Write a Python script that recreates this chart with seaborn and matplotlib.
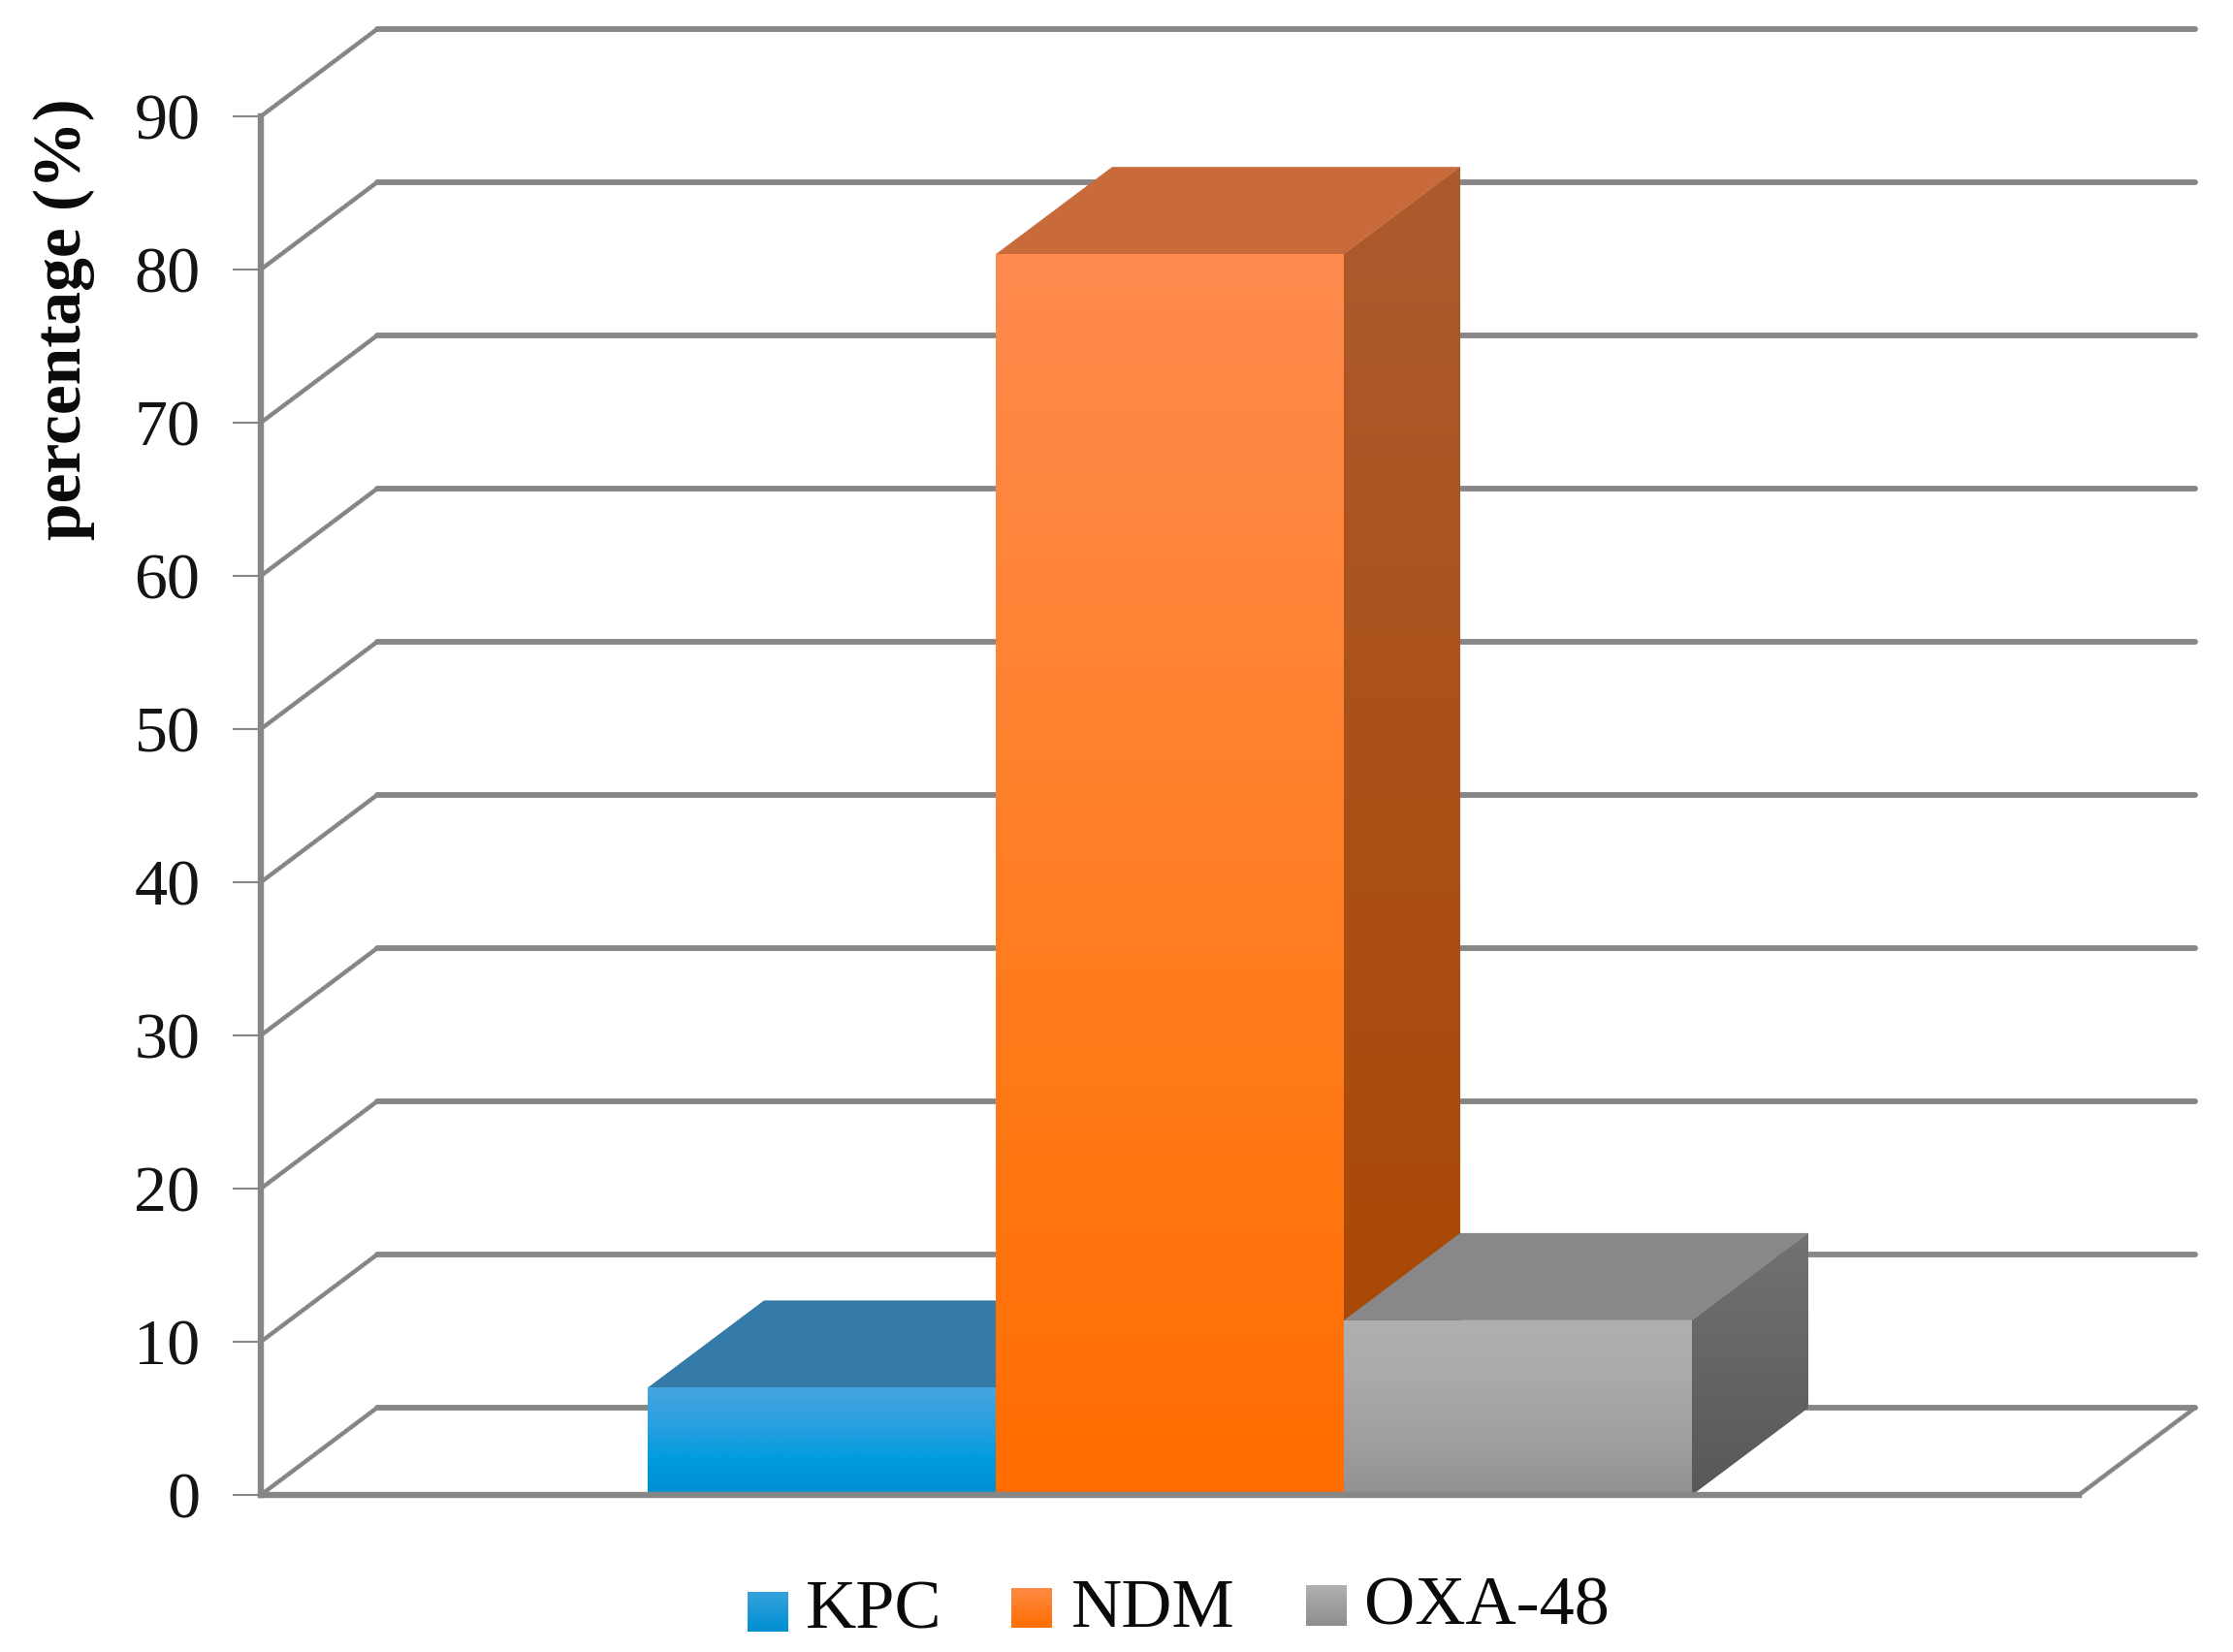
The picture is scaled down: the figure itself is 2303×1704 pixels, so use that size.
#!/usr/bin/env python3
"""Carbapenemase percentages as a pseudo-3D column chart"""

import numpy as np
import pandas as pd
import matplotlib
matplotlib.use('Agg')
import matplotlib.pyplot as plt
import seaborn as sns
from matplotlib.colors import LinearSegmentedColormap
from matplotlib.patches import Polygon

# Data
enzymes = ['KPC', 'NDM', 'OXA-48']
percentages = [7, 81, 11.4]
y_ticks = [0, 10, 20, 30, 40, 50, 60, 70, 80, 90]

# Colours, listed from the top of a face to its bottom
front_colors = [['#45a6e0', '#2ba0df', '#009cdf', '#008ed0'],
                ['#ff8b4f', '#ff8333', '#ff7a18', '#ff6c00'],
                ['#b0b0b0', '#aaaaaa', '#a0a0a0', '#929292']]
top_colors = ['#357ba8', '#c96a3a', '#888888']
side_colors = [['#2a6a95', '#20557a'],
               ['#ad5a2e', '#a84600'],
               ['#727272', '#585858']]
swatch_colors = [['#35a2dd', '#008fd2'], ['#ff8a45', '#ff6e00'], ['#b0b0b0', '#8e8e8e']]
GRID = '#868686'

# Layout in pixels of the final image
W, H = 2303, 1704
AX_L, AX_R, AX_T, AX_B = 269, 2144, 120, 1542
DEPTH_X = 120 / (AX_R - AX_L)       # in x data units
DEPTH_Y = 90 / ((AX_B - AX_T) / 90)  # in y data units


def gradient(ax, colors, extent, clip, zorder):
    """Vertical colour gradient clipped to a patch"""
    cmap = LinearSegmentedColormap.from_list('face', colors)
    img = ax.imshow(np.linspace(0, 1, 256).reshape(-1, 1), cmap=cmap, extent=extent,
                    aspect='auto', origin='upper', zorder=zorder)
    img.set_clip_path(clip)


sns.set_style('white')
plt.rcParams['font.family'] = ['Liberation Serif', 'DejaVu Serif']

fig = plt.figure(figsize=(W / 100, H / 100), dpi=100, facecolor='white')
ax = fig.add_axes([AX_L / W, 1 - AX_B / H, (AX_R - AX_L) / W, (AX_B - AX_T) / H])
ax.patch.set_alpha(0)

df = pd.DataFrame({'group': [''] * len(enzymes), 'enzyme': enzymes, 'pct': percentages})
sns.barplot(data=df, x='group', y='pct', hue='enzyme', hue_order=enzymes,
            palette=[c[2] for c in front_colors], width=0.5744, gap=0,
            legend=False, ax=ax)

x0, x1 = -0.5, 0.5
ax.set_xlim(x0, x1)
ax.set_ylim(0, 90)

# Back wall and side wall lines
for v in y_ticks:
    ax.plot([x0, x0 + DEPTH_X], [v, v + DEPTH_Y], color=GRID, lw=3.2,
            clip_on=False, zorder=1)
    ax.plot([x0 + DEPTH_X, x1 + DEPTH_X], [v + DEPTH_Y, v + DEPTH_Y], color=GRID, lw=4.2,
            clip_on=False, zorder=1)
ax.plot([x1, x1 + DEPTH_X], [0, DEPTH_Y], color=GRID, lw=3.2, clip_on=False, zorder=1)

# Give each seaborn bar its gradient, top face and side face
for i, container in enumerate(ax.containers):
    z = 3 + i
    for bar in container:
        left, w, h = bar.get_x(), bar.get_width(), bar.get_height()
        right = left + w
        bar.set_zorder(z)
        bar.set_linewidth(0)
        gradient(ax, front_colors[i], (left, right, 0, h), bar, z + 0.3)

        top = Polygon([(left, h), (left + DEPTH_X, h + DEPTH_Y),
                       (right + DEPTH_X, h + DEPTH_Y), (right, h)],
                      closed=True, facecolor=top_colors[i], edgecolor='none',
                      clip_on=False, zorder=z + 0.2)
        ax.add_patch(top)

        side = Polygon([(right, 0), (right + DEPTH_X, DEPTH_Y),
                        (right + DEPTH_X, h + DEPTH_Y), (right, h)],
                       closed=True, facecolor=side_colors[i][0], edgecolor='none',
                       clip_on=False, zorder=z + 0.1)
        ax.add_patch(side)
        gradient(ax, side_colors[i], (right, right + DEPTH_X, 0, h + DEPTH_Y), side, z + 0.15)

ax.set_xlim(x0, x1)
ax.set_ylim(0, 90)

# Axes
ax.set_xlabel('')
ax.set_ylabel('')
ax.set_xticks([])
ax.set_yticks(y_ticks)
ax.tick_params(axis='y', left=True, length=21, width=1.5, color=GRID, pad=24,
               labelsize=49, labelcolor='#141414')
for name, spine in ax.spines.items():
    spine.set_visible(name in ('left', 'bottom'))
    spine.set_color(GRID)
    spine.set_linewidth(4.6)
    spine.set_zorder(20)

fig.text(66 / W, 1 - 329 / H, 'percentage (%)', rotation=90, ha='center', va='center',
         fontsize=50, fontweight='bold', color='#0a0a0a')

# Legend
swatch_x = [771, 1043, 1347]
swatch_y = [(1642, 1683), (1638, 1679), (1635, 1677)]
label_x = [831, 1105, 1407]
baselines = [1680, 1678, 1675]
for name, sx, (sy0, sy1), lx, base, cols in zip(enzymes, swatch_x, swatch_y, label_x,
                                                baselines, swatch_colors):
    sw = fig.add_axes([sx / W, 1 - sy1 / H, 42 / W, (sy1 - sy0) / H])
    sw.imshow(np.linspace(0, 1, 64).reshape(-1, 1), aspect='auto',
              cmap=LinearSegmentedColormap.from_list('swatch', cols))
    sw.axis('off')
    fig.text(lx / W, 1 - base / H, name, ha='left', va='baseline', fontsize=52,
             color='#0a0a0a')

fig.savefig('out.png', dpi=100, facecolor='white')
